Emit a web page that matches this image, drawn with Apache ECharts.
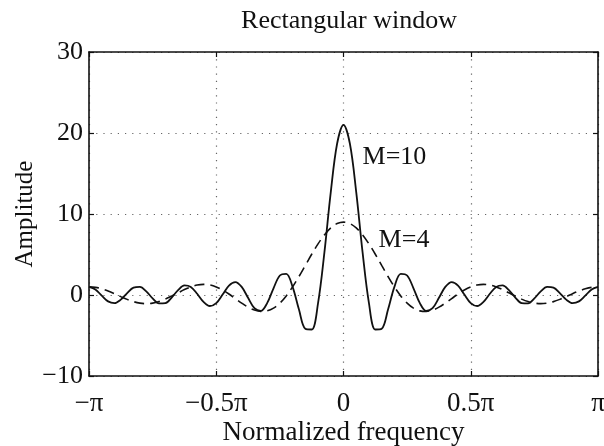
<!DOCTYPE html>
<html>
<head>
<meta charset="utf-8">
<script src="https://cdn.jsdelivr.net/npm/echarts@6/dist/echarts.min.js"></script>
<style>
  html, body { margin: 0; padding: 0; background: #fff; }
  #chart { width: 604px; height: 446px; }
</style>
</head>
<body>
<div id="chart"></div>
<script>
// Normalized frequency (in units of pi)
const freq = [
  -1, -0.975, -0.95, -0.925, -0.9, -0.875, -0.85, -0.825, -0.8, -0.775,
  -0.75, -0.725, -0.7, -0.675, -0.65, -0.625, -0.6, -0.575, -0.55, -0.525,
  -0.5, -0.475, -0.45, -0.425, -0.4, -0.375, -0.35, -0.325, -0.3, -0.275,
  -0.25, -0.225, -0.2, -0.175, -0.15, -0.125, -0.1, -0.075, -0.05, -0.025,
  0,
  0.025, 0.05, 0.075, 0.1, 0.125, 0.15, 0.175, 0.2, 0.225, 0.25,
  0.275, 0.3, 0.325, 0.35, 0.375, 0.4, 0.425, 0.45, 0.475, 0.5,
  0.525, 0.55, 0.575, 0.6, 0.625, 0.65, 0.675, 0.7, 0.725, 0.75,
  0.775, 0.8, 0.825, 0.85, 0.875, 0.9, 0.925, 0.95, 0.975, 1
];

// Amplitude response, M = 10 (solid)
const ampM10 = [
  1.00, 0.68, -0.08, -0.79, -1.00, -0.57, 0.24, 0.91, 1.00, 0.45,
  -0.41, -1.03, -1.00, -0.31, 0.61, 1.18, 1.00, 0.15, -0.85, -1.36,
  -1.00, 0.06, 1.17, 1.60, 1.00, -0.35, -1.63, -1.97, -1.00, 0.83,
  2.41, 2.62, 1.00, -1.80, -4.17, -4.26, -1.00, 5.27, 12.71, 18.70,
  21.00,
  18.70, 12.71, 5.27, -1.00, -4.26, -4.17, -1.80, 1.00, 2.62, 2.41,
  0.83, -1.00, -1.97, -1.63, -0.35, 1.00, 1.60, 1.17, 0.06, -1.00,
  -1.36, -0.85, 0.15, 1.00, 1.18, 0.61, -0.31, -1.00, -1.03, -0.41,
  0.45, 1.00, 0.91, 0.24, -0.57, -1.00, -0.79, -0.08, 0.68, 1.00
];

// Amplitude response, M = 4 (dashed)
const ampM4 = [
  1.00, 0.94, 0.76, 0.49, 0.16, -0.20, -0.54, -0.82, -1.00, -1.07,
  -1.00, -0.81, -0.51, -0.13, 0.27, 0.67, 1.00, 1.23, 1.31, 1.24,
  1.00, 0.62, 0.12, -0.44, -1.00, -1.50, -1.86, -2.03, -1.96, -1.62,
  -1.00, -0.11, 1.00, 2.28, 3.65, 5.03, 6.31, 7.42, 8.28, 8.82,
  9.00,
  8.82, 8.28, 7.42, 6.31, 5.03, 3.65, 2.28, 1.00, -0.11, -1.00,
  -1.62, -1.96, -2.03, -1.86, -1.50, -1.00, -0.44, 0.12, 0.62, 1.00,
  1.24, 1.31, 1.23, 1.00, 0.67, 0.27, -0.13, -0.51, -0.81, -1.00,
  -1.07, -1.00, -0.82, -0.54, -0.20, 0.16, 0.49, 0.76, 0.94, 1.00
];

// x tick labels at -1, -0.5, 0, 0.5, 1
const xTickLabels = ['\u2212\u03c0', '\u22120.5\u03c0', '0', '0.5\u03c0', '\u03c0'];
// y tick labels at -10, 0, 10, 20, 30
const yTickLabels = ['\u221210', '0', '10', '20', '30'];

const seriesNames = ['M=10', 'M=4'];
// where each curve's annotation starts (frequency, amplitude)
const labelAnchors = [[0.073, 17.0], [0.136, 6.8]];

const FONT = '"Liberation Serif", "DejaVu Serif", serif';
const INK = '#111';

const pairs = (ys) => freq.map((x, i) => [x, ys[i]]);

const dotted = { color: '#666', width: 1.2, type: [1.2, 6] };
const frame = { color: INK, width: 1.6 };
const ticks = { show: true, inside: true, length: 5, lineStyle: { color: INK, width: 1.2 } };

function annotation(i) {
  return {
    symbol: 'rect',
    symbolSize: 1,
    itemStyle: { color: 'rgba(0,0,0,0)' },
    data: [{ coord: labelAnchors[i], value: seriesNames[i] }],
    label: {
      show: true, position: 'right', distance: 0,
      formatter: seriesNames[i],
      fontFamily: FONT, fontSize: 26, color: INK
    }
  };
}

const chart = echarts.init(document.getElementById('chart'), null, { renderer: 'canvas' });

chart.setOption({
  backgroundColor: '#fff',
  animation: false,
  title: {
    text: 'Rectangular window',
    left: 344,
    top: 3,
    textAlign: 'center',
    textStyle: { fontFamily: FONT, fontSize: 26, fontWeight: 'normal', color: INK }
  },
  grid: { left: 89, right: 6, top: 52, bottom: 70, outerBoundsMode: 'none', containLabel: false },
  xAxis: [
    {
      type: 'value', min: -1, max: 1, interval: 0.5, position: 'bottom',
      name: 'Normalized frequency', nameLocation: 'middle', nameGap: 43, nameMoveOverlap: false,
      nameTextStyle: { fontFamily: FONT, fontSize: 27, color: INK },
      axisLine: { show: true, onZero: false, lineStyle: frame },
      axisTick: ticks,
      axisLabel: {
        fontFamily: FONT, fontSize: 27, color: INK, margin: 14,
        formatter: (v) => xTickLabels[Math.round((v + 1) / 0.5)]
      },
      splitLine: { show: true, lineStyle: dotted }
    },
    {
      type: 'value', min: -1, max: 1, interval: 0.5, position: 'top',
      axisLine: { show: true, onZero: false, lineStyle: frame },
      axisTick: ticks,
      axisLabel: { show: false },
      splitLine: { show: false }
    }
  ],
  yAxis: [
    {
      type: 'value', min: -10, max: 30, interval: 10, position: 'left',
      name: 'Amplitude', nameLocation: 'middle', nameGap: 51, nameRotate: 90, nameMoveOverlap: false,
      nameTextStyle: { fontFamily: FONT, fontSize: 25, color: INK },
      axisLine: { show: true, onZero: false, lineStyle: frame },
      axisTick: ticks,
      axisLabel: {
        fontFamily: FONT, fontSize: 26, color: INK, margin: 6,
        formatter: (v) => yTickLabels[Math.round((v + 10) / 10)]
      },
      splitLine: { show: true, lineStyle: dotted }
    },
    {
      type: 'value', min: -10, max: 30, interval: 10, position: 'right',
      axisLine: { show: true, onZero: false, lineStyle: frame },
      axisTick: ticks,
      axisLabel: { show: false },
      splitLine: { show: false }
    }
  ],
  series: [
    {
      name: seriesNames[0], type: 'line', xAxisIndex: 0, yAxisIndex: 0,
      data: pairs(ampM10), smooth: 0.35, showSymbol: false, symbol: 'none',
      lineStyle: { color: INK, width: 1.8, type: 'solid' },
      markPoint: annotation(0)
    },
    {
      name: seriesNames[1], type: 'line', xAxisIndex: 0, yAxisIndex: 0,
      data: pairs(ampM4), smooth: 0.35, showSymbol: false, symbol: 'none',
      lineStyle: { color: INK, width: 1.6, type: [10, 6] },
      markPoint: annotation(1)
    }
  ]
});
</script>
</body>
</html>
